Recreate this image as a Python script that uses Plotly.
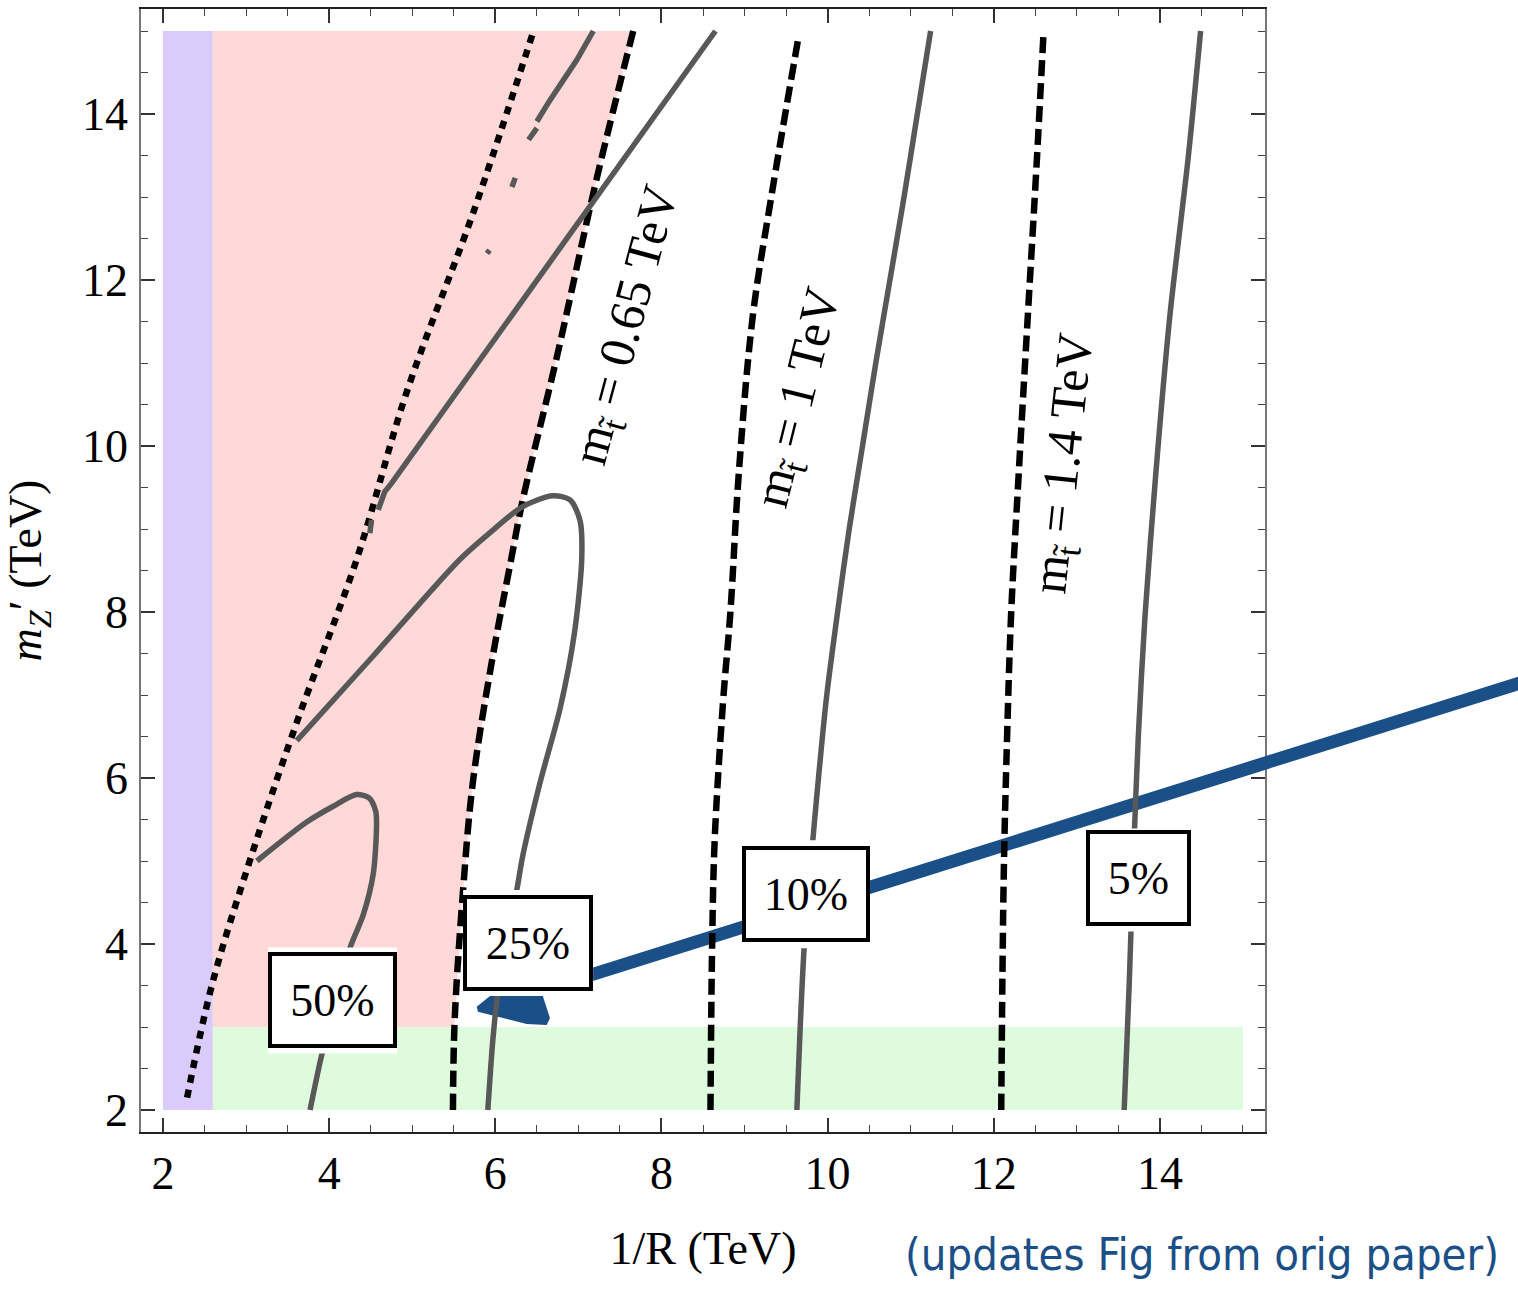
import numpy as np
import plotly.graph_objects as go

# ---------------- axis windows (TeV) ----------------
X_RANGE = [1.735, 15.265]
Y_RANGE = [1.735, 15.265]
X_EXT_END = 18.31          # the Z' band is drawn on past the frame edge

# ---------------- shaded regions ----------------
purple_x = [2.0, 2.6]
purple_y = [2.0, 15.0]
green_x = [2.6, 15.0]
green_y = [2.0, 3.0]
pink_left_x = 2.6
pink_y = [3.0, 15.0]

# ---------------- stop-mass curves ----------------
mt065_x = [5.49, 5.51, 5.61, 5.73, 5.97, 6.19, 6.33, 6.74, 7.22, 7.66]
mt065_y = [2.0, 3.06, 4.62, 5.95, 7.47, 8.63, 9.35, 11.07, 13.22, 15.0]

mt1_x = [8.59, 8.61, 8.64, 8.74, 8.83, 8.93, 9.10, 9.32, 9.65]
mt1_y = [2.0, 3.99, 5.24, 6.90, 8.0, 9.66, 11.57, 12.99, 14.93]

mt14_x = [12.09, 12.12, 12.16, 12.21, 12.30, 12.41, 12.52, 12.60]
mt14_y = [2.0, 4.82, 6.48, 8.0, 9.66, 11.57, 13.47, 15.0]

# dotted boundary
dot_x = [2.29, 2.59, 3.05, 3.61, 4.33, 4.93, 5.73, 6.46]
dot_y = [2.15, 3.51, 5.02, 6.67, 8.63, 10.64, 12.80, 15.0]

# ---------------- tuning contours ----------------
c50_x = [3.13, 3.73, 4.05, 4.33, 4.48, 4.56, 4.57, 4.53, 4.41, 4.25, 4.08, 3.91, 3.77]
c50_y = [5.0, 5.47, 5.66, 5.80, 5.76, 5.60, 5.42, 4.84, 4.35, 3.95, 3.30, 2.66, 2.0]

c25_x = [3.61, 4.53, 5.57, 5.94, 6.33, 6.69, 6.90, 7.02, 7.04, 6.95, 6.78, 6.54,
         6.33, 6.26, 6.12, 6.03, 5.97, 5.91]
c25_y = [6.45, 7.47, 8.63, 8.96, 9.27, 9.40, 9.35, 9.10, 8.63, 7.73, 6.84, 5.95,
         5.06, 4.66, 4.00, 3.42, 2.84, 2.0]

c10_x = [9.63, 9.67, 9.72, 9.80, 9.89, 9.99, 10.12, 10.26, 10.42, 10.58, 10.75, 10.92, 11.08, 11.24]
c10_y = [2.0, 3.0, 4.0, 5.0, 6.0, 7.0, 8.0, 9.0, 10.0, 11.0, 12.0, 13.0, 14.0, 15.0]

c5_x = [13.57, 13.63, 13.68, 13.74, 13.82, 13.95, 14.12, 14.34, 14.49]
c5_y = [2.0, 3.5, 5.0, 6.5, 7.94, 9.66, 11.57, 13.47, 15.0]

# broken contour pieces in the upper-left corner
diag_x = [4.59, 4.67, 4.75, 8.65, None, 4.49, 4.51]
diag_y = [9.23, 9.45, 9.55, 15.0, None, 8.95, 9.11]

upper_x = [6.50, 6.60, 6.66, 6.98, 7.18, None, 6.40, 6.50, None, 6.20, 6.24, None, 5.90, 5.93]
upper_y = [13.91, 14.07, 14.17, 14.65, 15.0, None, 13.69, 13.83, None, 13.12, 13.23, None, 12.32, 12.36]

# ---------------- Z' band ----------------
zp_x = [7.0, 7.98, 12.13, 15.22, 18.35]
zp_y = [3.58, 3.89, 5.19, 6.16, 7.15]

zp_head_x = [5.776, 5.936, 6.0, 6.62, 6.574, 6.658, 6.618, 6.378, 5.791]
zp_head_y = [3.245, 3.373, 3.46, 3.46, 3.365, 3.108, 3.024, 3.036, 3.184]

# ---------------- labels ----------------
box_labels = ["50%", "25%", "10%", "5%"]
box_x = [4.04, 6.395, 9.74, 13.74]
box_y = [3.32, 4.013, 4.60, 4.80]
box_w = [121, 122, 120, 97]
# white gap (px) left above / below each label box
halo_top = [5, 5, 6, 1]
halo_bot = [5, 5, 6, 6]

mt_labels = ["m<sub>t\u0303</sub> = 0.65 TeV",
             "m<sub>t\u0303</sub> = 1 TeV",
             "m<sub>t\u0303</sub> = 1.4 TeV"]
mt_lab_x = [7.60, 9.67, 12.87]
mt_lab_y = [11.45, 10.58, 9.78]
mt_lab_angle = [-75, -76, -84]

SERIF = "Liberation Serif, Times New Roman, serif"
GRAY = "#585858"
BLUE = "#1b4f87"

fig = go.Figure()

# regions
fig.add_trace(go.Scatter(
    x=[purple_x[0], purple_x[1], purple_x[1], purple_x[0]],
    y=[purple_y[0], purple_y[0], purple_y[1], purple_y[1]],
    fill="toself", fillcolor="rgb(218,203,251)", mode="none", hoverinfo="skip"))

mt065_arr_x = np.array(mt065_x)
mt065_arr_y = np.array(mt065_y)
keep = mt065_arr_y > pink_y[0]
edge_y = np.concatenate([[pink_y[0]], mt065_arr_y[keep]])
edge_x = np.interp(edge_y, mt065_arr_y, mt065_arr_x)
pink_px = [pink_left_x, pink_left_x] + list(edge_x[::-1])
pink_py = [pink_y[0], pink_y[1]] + list(edge_y[::-1])
fig.add_trace(go.Scatter(x=pink_px, y=pink_py, fill="toself",
                         fillcolor="rgb(255,216,216)", mode="none", hoverinfo="skip"))

fig.add_trace(go.Scatter(
    x=[green_x[0], green_x[1], green_x[1], green_x[0]],
    y=[green_y[0], green_y[0], green_y[1], green_y[1]],
    fill="toself", fillcolor="rgb(222,251,222)", mode="none", hoverinfo="skip"))

# Z' band (inside the frame, then continued outside it)
fig.add_trace(go.Scatter(x=zp_head_x, y=zp_head_y, fill="toself", fillcolor=BLUE,
                         mode="none", hoverinfo="skip"))
fig.add_trace(go.Scatter(x=zp_x, y=zp_y, mode="lines",
                         line=dict(color=BLUE, width=13), hoverinfo="skip"))
fig.add_trace(go.Scatter(x=zp_x, y=zp_y, mode="lines", xaxis="x2", yaxis="y",
                         line=dict(color=BLUE, width=13), hoverinfo="skip"))

# stop-mass curves
for cx, cy in [(mt065_x, mt065_y), (mt1_x, mt1_y), (mt14_x, mt14_y)]:
    fig.add_trace(go.Scatter(x=cx, y=cy, mode="lines",
                             line=dict(color="black", width=6.5, dash="16px,7px", shape="spline"),
                             hoverinfo="skip"))
fig.add_trace(go.Scatter(x=dot_x, y=dot_y, mode="lines",
                         line=dict(color="black", width=6.5, dash="8px,7px", shape="spline"),
                         hoverinfo="skip"))

# tuning contours
for cx, cy in [(c50_x, c50_y), (c25_x, c25_y), (c10_x, c10_y), (c5_x, c5_y)]:
    fig.add_trace(go.Scatter(x=cx, y=cy, mode="lines",
                             line=dict(color=GRAY, width=5.5, shape="spline", smoothing=0.8),
                             hoverinfo="skip"))
for cx, cy in [(diag_x, diag_y), (upper_x, upper_y)]:
    fig.add_trace(go.Scatter(x=cx, y=cy, mode="lines", connectgaps=False,
                             line=dict(color=GRAY, width=5.5), hoverinfo="skip"))

# white gaps around the contour labels (fixed pixel size, anchored in data space)
shapes = []
for bx, by, bw, ht, hb in zip(box_x, box_y, box_w, halo_top, halo_bot):
    hw = (bw + 8) / 2.0
    hh = (88 + 8) / 2.0
    shapes.append(dict(type="rect", xref="x", yref="y",
                       xsizemode="pixel", ysizemode="pixel",
                       xanchor=bx, yanchor=by,
                       x0=-hw, x1=hw, y0=-hh - hb, y1=hh + ht,
                       fillcolor="white", line=dict(width=0), layer="above"))

annotations = []
for lab, bx, by, bw in zip(box_labels, box_x, box_y, box_w):
    annotations.append(dict(x=bx, y=by, xref="x", yref="y", text=lab, showarrow=False,
                            width=bw, height=88, bgcolor="white", bordercolor="black",
                            borderwidth=4, borderpad=0, xanchor="center", yanchor="middle",
                            font=dict(family=SERIF, size=46, color="black")))
for lab, lx, ly, ang in zip(mt_labels, mt_lab_x, mt_lab_y, mt_lab_angle):
    annotations.append(dict(x=lx, y=ly, xref="x", yref="y", text=lab, showarrow=False,
                            textangle=ang, xanchor="center", yanchor="middle",
                            font=dict(family=SERIF, size=50, color="black")))
annotations.append(dict(x=0.7705, y=-0.1095, xref="paper", yref="paper",
                        text="(updates Fig from orig paper)", showarrow=False,
                        xanchor="center", yanchor="middle",
                        font=dict(family="DejaVu Sans Condensed, sans-serif", size=45, color=BLUE)))

W, H = 1518, 1291
ML, MR, MT, MB = 141, 0, 9, 159
frame_right = 1265
dom_end = (frame_right - ML) / (W - ML - MR)

axis_common = dict(
    showgrid=False, zeroline=False, showline=True, mirror="ticks",
    linewidth=1.5, ticks="inside", ticklen=14, tickwidth=1.5, tickcolor="#333",
    tick0=2, dtick=2,
    minor=dict(dtick=0.5, tick0=2, ticks="inside", ticklen=7, tickwidth=1.2, tickcolor="#444"),
    tickfont=dict(family=SERIF, size=46, color="black"),
)

fig.update_layout(
    width=W, height=H,
    margin=dict(l=ML, r=MR, t=MT, b=MB),
    paper_bgcolor="white", plot_bgcolor="white",
    showlegend=False,
    xaxis=dict(range=X_RANGE, domain=[0, dom_end], anchor="y", linecolor="#222",
               ticklabelstandoff=0,
               title=dict(text="1/R (TeV)", standoff=34,
                          font=dict(family=SERIF, size=46, color="black")),
               **axis_common),
    yaxis=dict(range=Y_RANGE, domain=[0, 1], anchor="x", linecolor="#777",
               ticklabelstandoff=2,
               title=dict(text="<i>m</i><sub><i>Z</i></sub>\u2032 (TeV)", standoff=26,
                          font=dict(family=SERIF, size=46, color="black")),
               **axis_common),
    xaxis2=dict(range=[X_RANGE[1], X_EXT_END], domain=[dom_end, 1], anchor="y",
                visible=False, showgrid=False, zeroline=False),
    shapes=shapes,
    annotations=annotations,
)

fig.write_html("out.html")
